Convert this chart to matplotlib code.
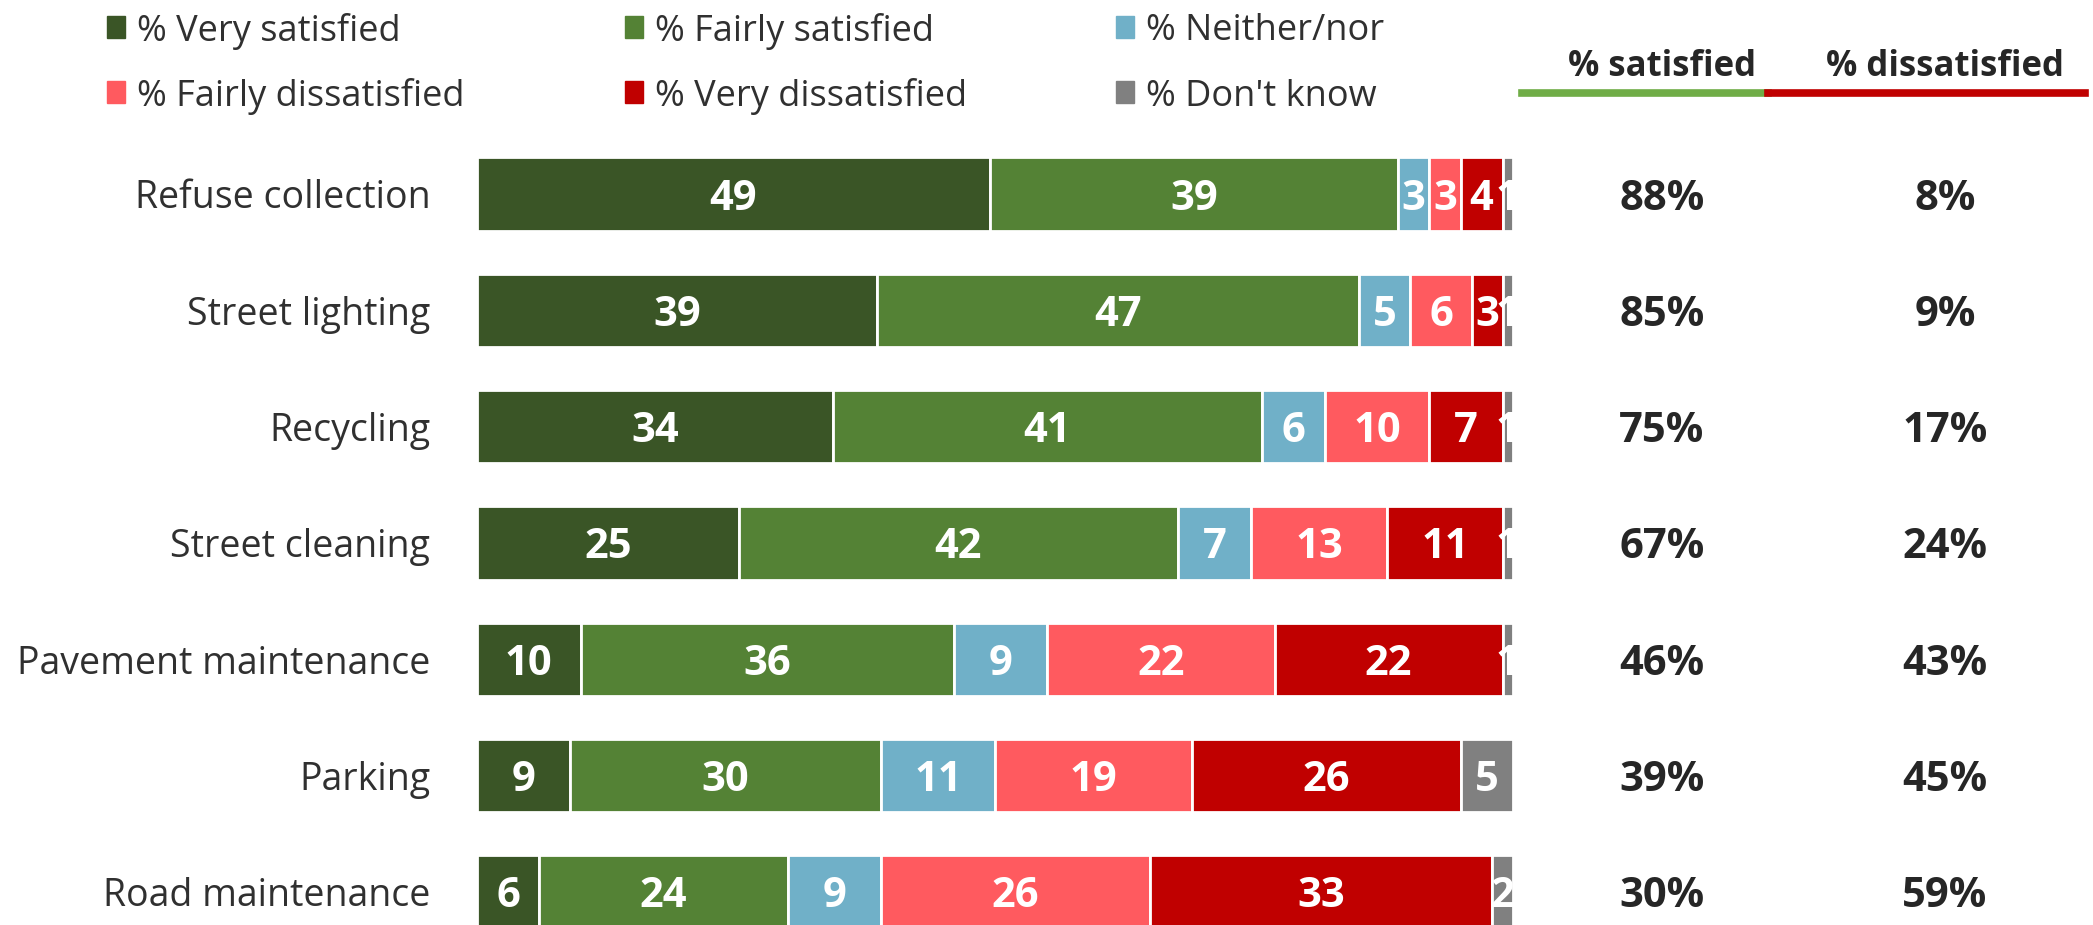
import matplotlib.pyplot as plt
from matplotlib.patches import Rectangle
from matplotlib.lines import Line2D
from matplotlib.transforms import blended_transform_factory

services = ["Refuse collection", "Street lighting", "Recycling", "Street cleaning",
            "Pavement maintenance", "Parking", "Road maintenance"]
very_sat = [49, 39, 34, 25, 10, 9, 6]
fairly_sat = [39, 47, 41, 42, 36, 30, 24]
neither = [3, 5, 6, 7, 9, 11, 9]
fairly_dis = [3, 6, 10, 13, 22, 19, 26]
very_dis = [4, 3, 7, 11, 22, 26, 33]
dont_know = [1, 1, 1, 1, 1, 5, 2]
pct_satisfied = [88, 85, 75, 67, 46, 39, 30]
pct_dissatisfied = [8, 9, 17, 24, 43, 45, 59]

series_names = ["% Very satisfied", "% Fairly satisfied", "% Neither/nor",
                "% Fairly dissatisfied", "% Very dissatisfied", "% Don't know"]
series = [very_sat, fairly_sat, neither, fairly_dis, very_dis, dont_know]
colors = ["#3A5526", "#548235", "#70B0C8", "#FF5A5F", "#C00000", "#808080"]

W, H = 2093, 925
fig = plt.figure(figsize=(W / 100, H / 100), dpi=100)
plt.rcParams['font.family'] = ['Open Sans', 'DejaVu Sans']

# 100% stacked bars: x pixels 477..1513
ax = fig.add_axes([477 / W, 0, 1036 / W, 1])
ax.set_xlim(0, 100)
ax.set_ylim((925 - 194) / 116.3, -194 / 116.3)
ax.axis("off")

totals = [sum(r) for r in zip(*series)]
ypos = list(range(len(services)))
left = [0] * len(services)
for vals, name, col in zip(series, series_names, colors):
    shares = [v / t * 100 for v, t in zip(vals, totals)]
    bars = ax.barh(ypos, shares, left=left, height=0.63, color=col,
                   edgecolor="white", linewidth=2, label=name)
    for b, v in zip(bars, vals):
        ax.text(b.get_x() + b.get_width() / 2, b.get_y() + b.get_height() / 2, str(v),
                ha="center", va="center_baseline", color="white", fontsize=30,
                fontweight="bold", clip_on=False)
    left = [l + s for l, s in zip(left, shares)]

# category labels
for y, s in zip(ypos, services):
    ax.text(-4.5, y, s, ha="right", va="center_baseline", fontsize=27, color="#303030")

# right columns
tr = blended_transform_factory(fig.transFigure, ax.transData)
for y, s, d in zip(ypos, pct_satisfied, pct_dissatisfied):
    ax.text(1662 / W, y, f"{s}%", transform=tr, ha="center", va="center_baseline",
            fontsize=30, fontweight="bold", color="#262626")
    ax.text(1945 / W, y, f"{d}%", transform=tr, ha="center", va="center_baseline",
            fontsize=30, fontweight="bold", color="#262626")

fig.text(1662 / W, 1 - 63 / H, "% satisfied", ha="center", va="center_baseline",
         fontsize=25, fontweight="bold", color="#262626")
fig.text(1945 / W, 1 - 63 / H, "% dissatisfied", ha="center", va="center_baseline",
         fontsize=25, fontweight="bold", color="#262626")
fig.add_artist(Line2D([1522 / W, 1768 / W], [1 - 93 / H, 1 - 93 / H],
                      color="#70AD47", linewidth=5.5, transform=fig.transFigure))
fig.add_artist(Line2D([1768 / W, 2085 / W], [1 - 93 / H, 1 - 93 / H],
                      color="#C00000", linewidth=5.5, transform=fig.transFigure))

# legend, 3 per row
lx = [107, 625, 1116]
ly = [27, 92]
for i, (name, col) in enumerate(zip(series_names, colors)):
    x = lx[i % 3]
    y = ly[i // 3]
    fig.add_artist(Rectangle((x / W, 1 - (y + 11) / H), 18 / W, 22 / H,
                             color=col, transform=fig.transFigure))
    fig.text((x + 30) / W, 1 - y / H, name, ha="left", va="center_baseline",
             fontsize=26, color="#303030")

fig.savefig("out.png", dpi=100)
